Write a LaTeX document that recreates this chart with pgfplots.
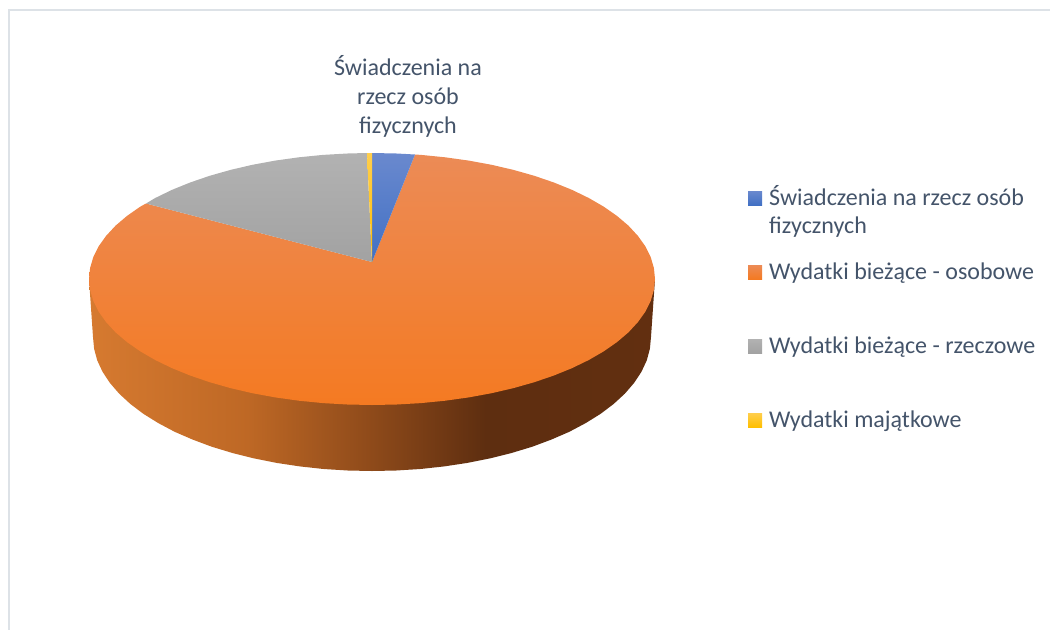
\documentclass[border=0pt]{standalone}
\usepackage{pgfplots}
\pgfplotsset{compat=1.18}
\usepackage{fontspec}
\setmainfont{Carlito}
\definecolor{txt}{HTML}{44546A}
\definecolor{frame}{HTML}{DDE2E7}
\definecolor{sa}{HTML}{D67A30}
\definecolor{sb}{HTML}{BE6825}
\definecolor{sc}{HTML}{8E4A1A}
\definecolor{sd}{HTML}{5E2E10}
\definecolor{se}{HTML}{622F10}
\definecolor{ot}{HTML}{EC8B56}
\definecolor{ob}{HTML}{F47A22}
\definecolor{bt}{HTML}{6A89CE}
\definecolor{bb}{HTML}{4170C4}
\definecolor{gt}{HTML}{B2B2B2}
\definecolor{gb}{HTML}{A2A2A2}
\definecolor{yt}{HTML}{FFCE4D}
\definecolor{yb}{HTML}{FFBF00}
\pgfdeclarehorizontalshading{side}{100bp}{
 color(0bp)=(sa); color(25bp)=(sa); color(39bp)=(sb); color(50bp)=(sc); color(60bp)=(sd); color(75bp)=(se); color(100bp)=(se)}
\begin{document}
\begin{tikzpicture}
\begin{axis}[hide axis, scale only axis, width=1050pt, height=630pt,
 xmin=0, xmax=1050, ymin=0, ymax=630, y dir=reverse, clip=false]
\path[use as bounding box] (axis cs:0,0) rectangle (axis cs:1050,630);
% frame
\addplot[draw=frame, line width=2pt] coordinates {(1050,9.5) (9,9.5) (9,630)};
% side wall
\addplot[draw=none, shading=side] coordinates {
(89,279) (93,337) (94.1,348.7) (97.2,360.3) (102.5,371.7) (109.8,382.8) (119.1,393.6) (130.4,404) (143.5,413.9) (158.3,423.1) (174.7,431.8) (192.7,439.6) (212,446.8) (232.5,453) (254.1,458.4) (276.6,462.9) (299.8,466.4) (323.6,469) (347.7,470.5) (372,471)
(396.3,470.5) (420.4,469) (444.2,466.4) (467.4,462.9) (489.9,458.4) (511.5,453) (532,446.8) (551.3,439.6) (569.3,431.8) (585.7,423.1) (600.5,413.9) (613.6,404) (624.9,393.6) (634.2,382.8) (641.5,371.7) (646.8,360.3) (649.9,348.7) (651,337) (655,279)};
% Wydatki bieżące - osobowe
\addplot[draw=none, top color=ot, bottom color=ob] coordinates {
(372,262) (415,154.5) (421.1,154.9) (445.2,157.3) (468.8,160.6) (491.6,164.8) (513.5,169.9) (534.3,175.8) (553.9,182.5) (572.1,189.9) (588.8,198) (603.8,206.7) (617.1,216) (628.5,225.7) (637.9,235.9) (645.4,246.4) (650.7,257.1) (653.9,268) (655,279)
(653.9,290) (650.7,300.9) (645.4,311.6) (637.9,322.1) (628.5,332.3) (617.1,342) (603.8,351.3) (588.8,360) (572.1,368.1) (553.9,375.5) (534.3,382.2) (513.5,388.1) (491.6,393.2) (468.8,397.4) (445.2,400.7) (421.1,403.1) (396.7,404.5) (372,405)
(347.3,404.5) (322.9,403.1) (298.8,400.7) (275.2,397.4) (252.4,393.2) (230.5,388.1) (209.7,382.2) (190.1,375.5) (171.9,368.1) (155.2,360) (140.2,351.3) (126.9,342) (115.5,332.3) (106.1,322.1) (98.6,311.6) (93.3,300.9) (90.1,290) (89,279)
(90.1,268) (93.3,257.1) (98.6,246.4) (106.1,235.9) (115.5,225.7) (126.9,216) (140.2,206.7) (146,203.5) (372,262)};
% Świadczenia na rzecz osób fizycznych
\addplot[draw=none, top color=bt, bottom color=bb] coordinates {
(372,262) (372,153) (396.7,153.5) (415,154.5) (372,262)};
% Wydatki bieżące - rzeczowe
\addplot[draw=none, top color=gt, bottom color=gb] coordinates {
(372,262) (146,203.5) (155.2,198) (171.9,189.9) (190.1,182.5) (209.7,175.8) (230.5,169.9) (252.4,164.8) (275.2,160.6) (298.8,157.3) (322.9,154.9) (347.3,153.5) (367,153) (372,262)};
% Wydatki majątkowe
\addplot[draw=none, top color=yt, bottom color=yb] coordinates {
(372,262) (367,153) (372,153) (372,262)};
% legend keys
\addplot[draw=none, top color=bt, bottom color=bb] coordinates {(748,191) (762,191) (762,205) (748,205)};
\addplot[draw=none, top color=ot, bottom color=ob] coordinates {(748,265) (762,265) (762,279) (748,279)};
\addplot[draw=none, top color=gt, bottom color=gb] coordinates {(748,339) (762,339) (762,353) (748,353)};
\addplot[draw=none, top color=yt, bottom color=yb] coordinates {(748,413) (762,413) (762,427) (748,427)};
% text
\begin{scope}[every node/.style={text=txt, font=\fontsize{24}{29}\selectfont, inner sep=0pt}]
\node[anchor=base west] at (axis cs:769,205) {Świadczenia na rzecz osób};
\node[anchor=base west] at (axis cs:769,233) {fizycznych};
\node[anchor=base west] at (axis cs:769,279) {Wydatki bieżące - osobowe};
\node[anchor=base west] at (axis cs:769,353) {Wydatki bieżące - rzeczowe};
\node[anchor=base west] at (axis cs:769,427) {Wydatki majątkowe};
\node[anchor=base] at (axis cs:408,75) {Świadczenia na};
\node[anchor=base] at (axis cs:408,104) {rzecz osób};
\node[anchor=base] at (axis cs:408,133) {fizycznych};
\end{scope}
\end{axis}
\end{tikzpicture}
\end{document}
